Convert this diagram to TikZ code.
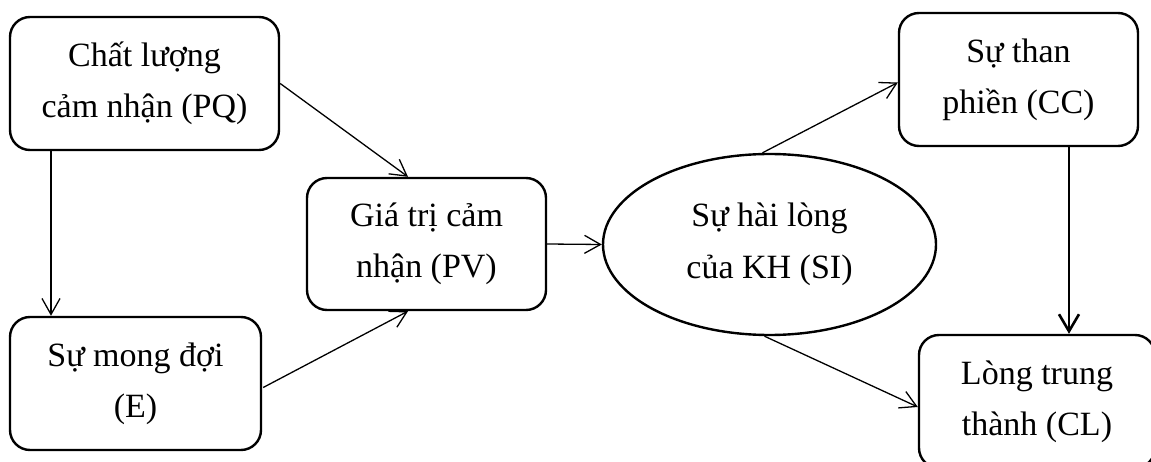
\documentclass[tikz,border=0pt]{standalone}
\usepackage{fontspec}
\setmainfont{Liberation Serif}
\usetikzlibrary{arrows.meta,shapes.geometric,calc}
\begin{document}
\begin{tikzpicture}[x=1pt,y=-1pt,
  box/.style={draw,line width=2.4pt,rounded corners=20pt,inner sep=0pt,
    align=center,font=\fontsize{34}{51}\selectfont},
  oval/.style={draw,ellipse,line width=2.4pt,inner sep=0pt,
    align=center,font=\fontsize{34}{52}\selectfont},
  link/.style={line width=1.3pt,-{Straight Barb[length=16pt,width=18pt,line width=1.3pt]}},
  boldlink/.style={line width=2.6pt,-{Straight Barb[length=17pt,width=20pt,line width=2.6pt]}}]
\useasboundingbox (0,0) rectangle (1151,462);
\clip (0,0) rectangle (1151,462);

% constructs of the model
\node[box,minimum width=269pt,minimum height=133pt] (PQ) at (144.5,83.5) {Chất lượng\\cảm nhận (PQ)};
\node[box,minimum width=251pt,minimum height=133pt] (E) at (135.5,383.5) {Sự mong đợi\\(E)};
\node[box,minimum width=239pt,minimum height=132pt] (PV) at (426.5,244) {Giá trị cảm\\nhận (PV)};
\node[oval,minimum width=333pt,minimum height=181pt] (SI) at (769.5,244.5) {Sự hài lòng\\của KH (SI)};
\node[box,minimum width=239pt,minimum height=133pt] (CC) at (1018.5,79.5) {Sự than\\phiền (CC)};
\node[box,minimum width=236pt,minimum height=133pt] (CL) at (1037,401.5) {Lòng trung\\thành (CL)};

% causal paths
\draw[link] (PQ.south -| 51,0) -- (E.north -| 51,0);
\draw[link] (PQ.east) -- (PV.north -| 408,0);
\draw[link] ($(E.east)+(1,4)$) -- (PV.south -| 408,0);
\draw[link] (PV.east) -- (SI.west);
\draw[link] ([xshift=-7pt]SI.north) -- ($(CC.west)+(0,3)$);
\draw[link] ([xshift=-5pt]SI.south) -- ($(CL.west)+(0,5.5)$);
\draw[boldlink] (CC.south -| 1069,0) -- (CL.north -| 1069,0);
\end{tikzpicture}
\end{document}
